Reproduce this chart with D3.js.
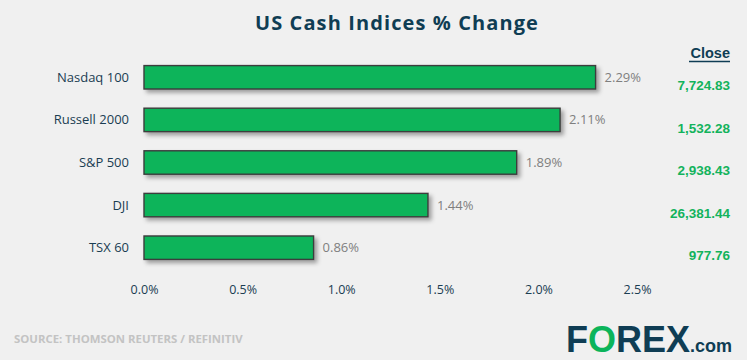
<!DOCTYPE html>
<html><head><meta charset="utf-8">
<script src="https://cdn.jsdelivr.net/npm/d3@7"></script>
<style>
html,body{margin:0;padding:0;background:#f0f0f0;}
svg{display:block;}
</style></head><body>
<svg id="chart" width="747" height="360"></svg>
<script>
const categories = ["Nasdaq 100","Russell 2000","S&P 500","DJI","TSX 60"];
const changes = [2.29, 2.11, 1.89, 1.44, 0.86];
const closes = ["7,724.83","1,532.28","2,938.43","26,381.44","977.76"];
const ticks = [0, 0.5, 1.0, 1.5, 2.0, 2.5];

const svg = d3.select("#chart");
svg.append("rect").attr("width",747).attr("height",360).attr("fill","#f0f0f0");

const defs = svg.append("defs");
const f = defs.append("filter").attr("id","sh").attr("x","-10%").attr("y","-30%").attr("width","130%").attr("height","200%");
f.append("feDropShadow").attr("dx",3).attr("dy",3).attr("stdDeviation",2.2).attr("flood-color","#000").attr("flood-opacity",0.35);

const x = d3.scaleLinear().domain([0,2.5]).range([144,637]);
const y = d3.scaleBand().domain(categories).range([56,269]).paddingInner(0.45).paddingOuter(0.225);

// title
svg.append("text").attr("x",397).attr("y",30).attr("text-anchor","middle")
  .attr("font-family","Open Sans").attr("font-weight",700).attr("font-size",20)
  .attr("letter-spacing",1.1).attr("fill","#0f3d54").text("US Cash Indices % Change");

// bars
svg.append("g").selectAll("rect").data(categories).join("rect")
  .attr("x",x(0)).attr("y",d=>y(d)).attr("height",y.bandwidth())
  .attr("width",(d,i)=>x(changes[i])-x(0))
  .attr("fill","#0bb45a").attr("stroke","#3c3c3c").attr("stroke-width",1.4)
  .attr("filter","url(#sh)");

// category labels
svg.append("g").selectAll("text").data(categories).join("text")
  .attr("x",129).attr("y",d=>y(d)+y.bandwidth()/2).attr("dy","0.35em")
  .attr("text-anchor","end").attr("font-family","Open Sans").attr("font-size",13)
  .attr("fill","#1a3d52").text(d=>d);

// value labels
svg.append("g").selectAll("text").data(categories).join("text")
  .attr("x",(d,i)=>x(changes[i])+9).attr("y",d=>y(d)+y.bandwidth()/2).attr("dy","0.35em")
  .attr("font-family","Open Sans").attr("font-size",13)
  .attr("fill","#7f7f7f").text((d,i)=>changes[i].toFixed(2)+"%");

// x axis
const ax = svg.append("g").attr("transform","translate(0,282)")
  .call(d3.axisBottom(x).tickValues(ticks).tickFormat(d=>d.toFixed(1)+"%").tickSize(0));
ax.select(".domain").remove();
ax.selectAll("text").attr("font-family","Open Sans").attr("font-size",12.5).attr("fill","#1a3d52");

// Close header
svg.append("text").attr("x",730).attr("y",58).attr("text-anchor","end")
  .attr("font-family","Liberation Sans").attr("font-weight",700).attr("font-size",14.5)
  .attr("fill","#0f3d54").text("Close");
svg.append("line").attr("x1",689).attr("x2",730).attr("y1",61.5).attr("y2",61.5)
  .attr("stroke","#0f3d54").attr("stroke-width",1.6);

svg.append("g").selectAll("text").data(categories).join("text")
  .attr("x",730).attr("y",(d,i)=>y(d)+y.bandwidth()/2+8).attr("dy","0.35em")
  .attr("text-anchor","end").attr("font-family","Liberation Sans Narrow, Liberation Sans")
  .attr("font-weight",700).attr("font-size",13.5).attr("fill","#13b35c")
  .text((d,i)=>closes[i]);

// source
svg.append("text").attr("x",14).attr("y",343)
  .attr("font-family","Open Sans").attr("font-weight",700).attr("font-size",11.4)
  .attr("fill","#c3c3c3").text("SOURCE: THOMSON REUTERS / REFINITIV");

// logo
const logo = svg.append("text").attr("x",566).attr("y",352)
  .attr("font-family","Liberation Sans").attr("font-weight",700).attr("font-size",36)
  .attr("fill","#0f3d54");
logo.append("tspan").text("F");
logo.append("tspan").attr("fill","#0bb45a").text("O");
logo.append("tspan").text("REX");
logo.append("tspan").attr("font-size",18).text(".com");
</script>
</body></html>
